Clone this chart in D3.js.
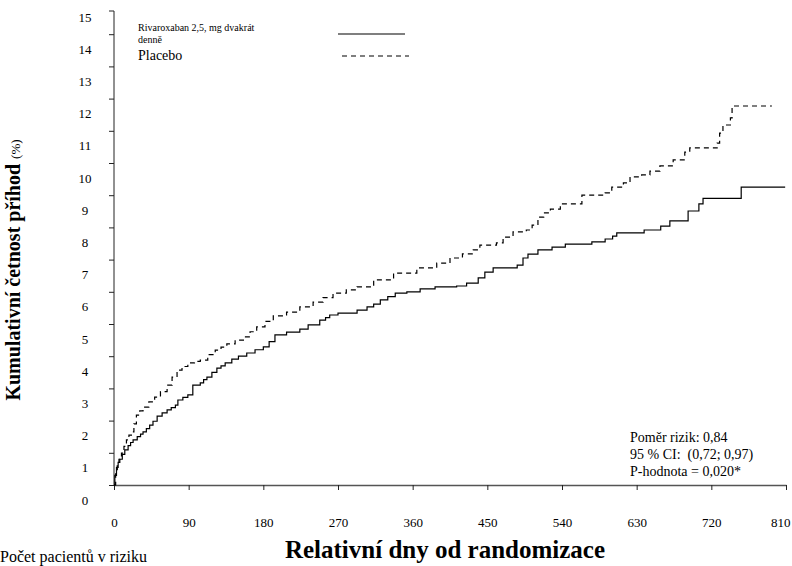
<!DOCTYPE html>
<html>
<head>
<meta charset="utf-8">
<script src="https://cdn.jsdelivr.net/npm/d3@7"></script>
<style>
  body { margin: 0; background: #fff; }
  svg { display: block; }
</style>
</head>
<body>
<script>
// days and cumulative event rate (%)
const rivaDays = [0, 1, 3, 5, 7, 10, 13, 17, 20, 23, 28, 32, 35, 39, 43, 47, 52, 58, 64, 69, 74, 77, 83, 89, 95, 104, 108, 112, 118, 124, 129, 134, 142, 150, 160, 170, 180, 187, 194, 208, 224, 234, 248, 255, 260, 270, 293, 305, 313, 321, 330, 339, 353, 369, 387, 413, 425, 439, 447, 457, 486, 493, 499, 511, 528, 544, 576, 592, 601, 606, 639, 659, 670, 692, 705, 710, 756, 809];
const rivaRate = [0, 0.3, 0.55, 0.7, 0.8, 0.95, 1.09, 1.22, 1.32, 1.4, 1.5, 1.58, 1.65, 1.75, 1.86, 1.98, 2.14, 2.24, 2.33, 2.4, 2.48, 2.64, 2.72, 2.8, 3.1, 3.17, 3.27, 3.35, 3.5, 3.63, 3.7, 3.79, 3.91, 4.0, 4.1, 4.2, 4.29, 4.45, 4.66, 4.75, 4.84, 4.97, 5.12, 5.2, 5.28, 5.34, 5.43, 5.53, 5.62, 5.75, 5.85, 5.96, 6.0, 6.09, 6.15, 6.18, 6.27, 6.43, 6.61, 6.74, 6.83, 7.05, 7.17, 7.3, 7.39, 7.48, 7.55, 7.64, 7.73, 7.83, 7.92, 8.04, 8.2, 8.51, 8.73, 8.9, 9.25, 9.25];

const placeboDays = [0, 2, 4, 6, 9, 12, 15, 18, 21, 24, 27, 31, 35, 42, 49, 56, 64, 70, 76, 82, 89, 97, 104, 113, 122, 129, 136, 146, 156, 164, 172, 182, 192, 208, 224, 240, 252, 264, 280, 293, 313, 337, 365, 389, 405, 420, 433, 441, 461, 469, 481, 497, 504, 511, 518, 526, 538, 564, 592, 600, 614, 622, 636, 646, 658, 674, 688, 694, 727, 730, 734, 743, 745, 793];
const placeboRate = [0, 0.35, 0.6, 0.8, 0.99, 1.2, 1.4, 1.55, 1.65, 1.9, 2.17, 2.3, 2.42, 2.58, 2.73, 2.9, 3.1, 3.35, 3.57, 3.68, 3.79, 3.84, 3.88, 4.05, 4.19, 4.28, 4.38, 4.5, 4.6, 4.76, 4.91, 5.08, 5.25, 5.37, 5.53, 5.68, 5.82, 5.96, 6.06, 6.15, 6.37, 6.58, 6.74, 6.89, 7.05, 7.18, 7.3, 7.45, 7.52, 7.7, 7.86, 7.92, 8.07, 8.32, 8.45, 8.57, 8.73, 9.0, 9.07, 9.25, 9.38, 9.57, 9.63, 9.75, 9.91, 10.1, 10.34, 10.47, 10.62, 10.93, 11.18, 11.4, 11.77, 11.77];

const xTicks = [0, 90, 180, 270, 360, 450, 540, 630, 720, 810];
const yTicks = [0, 1, 2, 3, 4, 5, 6, 7, 8, 9, 10, 11, 12, 13, 14];
const yLabels = [0, 1, 2, 3, 4, 5, 6, 7, 8, 9, 10, 11, 12, 13, 14, 15];

const legendNames = ['Rivaroxaban 2,5, mg dvakrát', 'Placebo'];
const statLines = ['Poměr rizik: 0,84', '95 % CI:  (0,72; 0,97)', 'P-hodnota = 0,020*'];

const font = '"Liberation Serif", "Times New Roman", serif';
const width = 792, height = 566;
const margin = ({top: 0, right: 6, bottom: 81, left: 114});

const xScale = d3.scaleLinear()
                 .domain([0, 810])
                 .range([margin.left, width - margin.right]);

const yScale = d3.scaleLinear()
                 .domain([0, 15])
                 .range([height - margin.bottom, height - margin.bottom - 15 * 32.2]);

const svg = d3.select('body')
              .append('svg')
              .attr('width', width)
              .attr('height', height)
              .style('font-family', font);

// AXES
const xAxis = d3.axisBottom(xScale).tickValues(xTicks).tickSize(5).tickSizeOuter(0).tickPadding(28);
const gx = svg.append('g')
   .attr('transform', `translate(0,${yScale(0)})`)
   .call(xAxis);
gx.select('.domain').attr('stroke', '#555').attr('stroke-width', 1.3);
gx.selectAll('.tick line').attr('stroke', '#222');
gx.selectAll('text').attr('font-size', 13).attr('fill', '#000').style('font-family', font);
// last label kept inside the page
gx.selectAll('text').filter(d => d === 810).attr('text-anchor', 'end').attr('dx', 4);

const yAxis = d3.axisLeft(yScale).tickValues(yTicks).tickSize(5).tickSizeOuter(0).tickFormat('');
const gy = svg.append('g')
   .attr('transform', `translate(${margin.left},0)`)
   .call(yAxis);
gy.select('.domain').attr('d', `M-5,11H0V${yScale(0)}`).attr('stroke', '#222');
gy.selectAll('.tick line').attr('stroke', '#222');

// tick labels sit half a step below their tick, as in the original
svg.append('g')
   .selectAll('text')
   .data(yLabels)
   .join('text')
   .attr('x', 85)
   .attr('y', d => yScale(d) + 15)
   .attr('dy', '0.35em')
   .attr('text-anchor', 'middle')
   .attr('font-size', 13)
   .text(d => d);

// CURVES
const line = d3.line()
               .x(d => xScale(d[0]))
               .y(d => yScale(d[1]))
               .curve(d3.curveStepAfter);

svg.append('path')
   .datum(d3.zip(placeboDays, placeboRate))
   .attr('fill', 'none')
   .attr('stroke', '#000')
   .attr('stroke-width', 1.2)
   .attr('stroke-dasharray', '5,4')
   .attr('d', line);

svg.append('path')
   .datum(d3.zip(rivaDays, rivaRate))
   .attr('fill', 'none')
   .attr('stroke', '#000')
   .attr('stroke-width', 1.2)
   .attr('d', line);

// LEGEND
svg.append('text')
   .attr('x', 138).attr('y', 31)
   .attr('font-size', 10)
   .text(legendNames[0]);
svg.append('text')
   .attr('x', 138).attr('y', 43)
   .attr('font-size', 10)
   .text('denně');
svg.append('text')
   .attr('x', 138).attr('y', 60)
   .attr('font-size', 14)
   .text(legendNames[1]);
svg.append('line')
   .attr('x1', 338).attr('x2', 405).attr('y1', 34).attr('y2', 34)
   .attr('stroke', '#000').attr('stroke-width', 1.2);
svg.append('line')
   .attr('x1', 342).attr('x2', 409).attr('y1', 56).attr('y2', 56)
   .attr('stroke', '#000').attr('stroke-width', 1.2)
   .attr('stroke-dasharray', '5,4');

// hazard ratio box
svg.append('g')
   .selectAll('text')
   .data(statLines)
   .join('text')
   .attr('x', 630)
   .attr('y', (d, i) => 442 + i * 17)
   .attr('font-size', 14)
   .style('white-space', 'pre')
   .text(d => d);

// Labelling the graph
svg.append('text')
   .attr('transform', 'translate(20,270) rotate(-90)')
   .attr('text-anchor', 'middle')
   .attr('font-size', 20)
   .attr('font-weight', 'bold')
   .text('Kumulativní četnost příhod ')
   .append('tspan')
   .attr('font-size', 13)
   .attr('font-weight', 'normal')
   .text('(%)');

svg.append('text')
   .attr('x', 445).attr('y', 558)
   .attr('text-anchor', 'middle')
   .attr('font-size', 25)
   .attr('font-weight', 'bold')
   .text('Relativní dny od randomizace');

svg.append('text')
   .attr('x', 0).attr('y', 562)
   .attr('font-size', 16)
   .text('Počet pacientů v riziku');
</script>
</body>
</html>
